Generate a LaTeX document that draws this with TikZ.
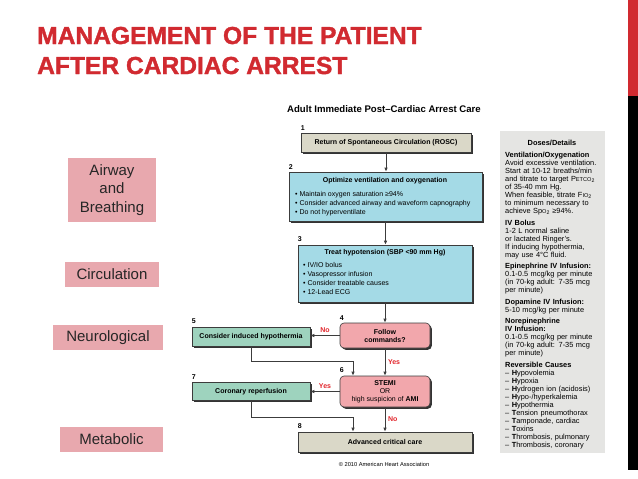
\documentclass[tikz,border=0pt]{standalone}
\usepackage{fontspec}
\setmainfont{Liberation Sans}
\newfontfamily\heavyfont{Liberation Sans}[BoldFeatures={FakeBold=1.4}]
\usetikzlibrary{arrows.meta}
\usetikzlibrary{shadows}

\definecolor{slidered}{HTML}{D12A30}
\definecolor{labelpink}{HTML}{E8A8AE}
\definecolor{boxbeige}{HTML}{DAD8C8}
\definecolor{boxblue}{HTML}{A4DAE6}
\definecolor{boxpink}{HTML}{F2A7AC}
\definecolor{boxgreen}{HTML}{9ED3BE}
\definecolor{panelgray}{HTML}{E5E5E3}
\definecolor{yesno}{HTML}{E2252B}
\definecolor{linegray}{HTML}{3C3C3C}

\begin{document}
\begin{tikzpicture}[x=1pt,y=-1pt]
  \tikzset{slidetitle/.style = {font=\heavyfont\fontsize{24.6}{30}\selectfont\bfseries, text=slidered, inner sep=0pt}}
  \tikzset{sidelabel/.style = {fill=labelpink, font=\fontsize{15}{18.5}\selectfont, text=black!85, align=center, inner sep=0pt, minimum height=25pt}}
  \tikzset{flowbox/.style = {draw=linegray, line width=0.6pt, inner sep=0pt, align=center,
      drop shadow={shadow xshift=1.8pt, shadow yshift=-1.8pt, fill=black!80, opacity=1},
      font=\fontsize{7}{8}\selectfont\bfseries}}
  \tikzset{carebeige/.style = {flowbox, fill=boxbeige}}
  \tikzset{careblue/.style = {flowbox, fill=boxblue}}
  \tikzset{carepink/.style = {flowbox, fill=boxpink, rounded corners=4pt}}
  \tikzset{caregreen/.style = {flowbox, fill=boxgreen}}
  \tikzset{num/.style = {font=\fontsize{7}{7}\selectfont\bfseries, inner sep=0pt, anchor=south west, yshift=2.5pt}}
  \tikzset{boxhead/.style = {font=\fontsize{7}{8}\selectfont\bfseries, inner sep=0pt}}
  \tikzset{bullets/.style = {font=\fontsize{7}{9}\selectfont, align=left, inner sep=0pt, anchor=north west}}
  \tikzset{answer/.style = {font=\fontsize{7}{7}\selectfont\bfseries, text=yesno, inner sep=2.5pt}}
  \tikzset{edge/.style = {-{Latex[length=4pt,width=3.5pt]}, draw=linegray, line width=1pt}}
  \tikzset{paneltext/.style = {font=\fontsize{7.4}{8}\selectfont, align=left, text width=98pt, inner sep=0pt, anchor=north west}}

  \useasboundingbox (0,0) rectangle (638,479);
  \fill[white] (0,0) rectangle (638,479);

  % slide edge
  \fill[slidered] (628,0) rectangle (638,96);
  \fill[black] (628,96) rectangle (638,470);

  % title
  \node[slidetitle, anchor=base west] (title1) at (37,44) {MANAGEMENT OF THE PATIENT};
  \node[slidetitle, anchor=base west] (title2) at (37,74) {AFTER CARDIAC ARREST};

  % side labels
  \node[sidelabel, minimum width=88pt, minimum height=64pt] (airway) at (112,190) {Airway\\and\\Breathing};
  \node[sidelabel, minimum width=94pt] (circ) at (112,274.5) {Circulation};
  \node[sidelabel, minimum width=110pt] (neuro) at (108,337.5) {Neurological};
  \node[sidelabel, minimum width=103pt] (metab) at (111.5,439.5) {Metabolic};

  % algorithm
  \node[font=\fontsize{9.6}{10}\selectfont\bfseries] (chart) at (384,109) {Adult Immediate Post–Cardiac Arrest Care};

  \node[carebeige, minimum width=170pt, minimum height=19pt] (rosc) at (386,142.5) {Return of Spontaneous Circulation (ROSC)};
  \node[careblue, minimum width=193pt, minimum height=49pt] (vent) at (385.5,196.5) {};
  \node[careblue, minimum width=174pt, minimum height=57pt] (hypo) at (385,273.5) {};
  \node[carepink, minimum width=90pt, minimum height=25pt] (cmds) at (385,335.5) {Follow\\commands?};
  \node[caregreen, minimum width=118pt, minimum height=19pt] (cool) at (251,336.5) {Consider induced hypothermia};
  \node[carepink, minimum width=90pt, minimum height=31pt] (stemi) at (385,391.5) {STEMI\\{\mdseries OR}\\{\mdseries high suspicion of} AMI};
  \node[caregreen, minimum width=118pt, minimum height=18pt] (reperf) at (251,391.5) {Coronary reperfusion};
  \node[carebeige, minimum width=174pt, minimum height=20pt] (critical) at (385,442) {Advanced critical care};

  \node[boxhead] (venthead) at (385,181) {Optimize ventilation and oxygenation};
  \node[bullets] (ventlist) at (295,191.5) {•\ Maintain oxygen saturation ≥94\%\\•\ Consider advanced airway and waveform capnography\\•\ Do not hyperventilate};
  \node[boxhead] (hypohead) at (385,253) {Treat hypotension (SBP <90 mm Hg)};
  \node[bullets] (hypolist) at (303,262.5) {•\ IV/IO bolus\\•\ Vasopressor infusion\\•\ Consider treatable causes\\•\ 12-Lead ECG};

  \node[num] (n1) at (rosc.north west) {1};
  \node[num] (n2) at (vent.north west) {2};
  \node[num] (n3) at (hypo.north west) {3};
  \node[num] (n4) at (cmds.north west) {4};
  \node[num] (n5) at (cool.north west) {5};
  \node[num] (n6) at (stemi.north west) {6};
  \node[num] (n7) at (reperf.north west) {7};
  \node[num] (n8) at (critical.north west) {8};

  \foreach \from/\to in {rosc/vent, vent/hypo, hypo/cmds}
    \draw[edge] (\from.south) -- (\from.south |- \to.north);
  \draw[edge] (cmds.south) -- node[answer, right]{Yes} (cmds.south |- stemi.north);
  \draw[edge] (stemi.south) -- node[answer, right]{No} (stemi.south |- critical.north);
  \draw[edge] (cmds.west) -- node[answer, above]{No} (cmds.west -| cool.east);
  \draw[edge] (stemi.west) -- node[answer, above]{Yes} (stemi.west -| reperf.east);
  \coordinate (coolbend) at (353,361);
  \coordinate (reperfbend) at (353,417);
  \draw[edge] (cool.south) |- (coolbend) -- (coolbend |- stemi.north);
  \draw[edge] (reperf.south) |- (reperfbend) -- (reperfbend |- critical.north);

  \node[font=\fontsize{5.7}{6}\selectfont] (copy) at (384,464) {© 2010 American Heart Association};

  % details panel
  \fill[panelgray] (500,131) rectangle (605,453);
  \node[font=\fontsize{7.4}{8}\selectfont\bfseries] (doses) at (552,143) {Doses/Details};
  \node[paneltext] (details) at (505,152) {\textbf{Ventilation/Oxygenation}\\
    Avoid excessive ventilation.\\
    Start at 10-12 breaths/min\\
    and titrate to target P{\fontsize{5.6}{8}\selectfont ETCO}\textsubscript{2}\\
    of 35-40 mm Hg.\\
    When feasible, titrate F{\fontsize{5.6}{8}\selectfont IO}\textsubscript{2}\\
    to minimum necessary to\\
    achieve Sp{\fontsize{5.6}{8}\selectfont O}\textsubscript{2} ≥94\%.\\[3.5pt]
    \textbf{IV Bolus}\\
    1-2 L normal saline\\
    or lactated Ringer's.\\
    If inducing hypothermia,\\
    may use 4°C fluid.\\[3.5pt]
    \textbf{Epinephrine IV Infusion:}\\
    0.1-0.5 mcg/kg per minute\\
    (in 70-kg adult: 7-35 mcg\\
    per minute)\\[3.5pt]
    \textbf{Dopamine IV Infusion:}\\
    5-10 mcg/kg per minute\\[3.5pt]
    \textbf{Norepinephrine}\\
    \textbf{IV Infusion:}\\
    0.1-0.5 mcg/kg per minute\\
    (in 70-kg adult: 7-35 mcg\\
    per minute)\\[3.5pt]
    \textbf{Reversible Causes}\\
    – \textbf{H}ypovolemia\\
    – \textbf{H}ypoxia\\
    – \textbf{H}ydrogen ion (acidosis)\\
    – \textbf{H}ypo-/hyperkalemia\\
    – \textbf{H}ypothermia\\
    – \textbf{T}ension pneumothorax\\
    – \textbf{T}amponade, cardiac\\
    – \textbf{T}oxins\\
    – \textbf{T}hrombosis, pulmonary\\
    – \textbf{T}hrombosis, coronary};
\end{tikzpicture}
\end{document}
